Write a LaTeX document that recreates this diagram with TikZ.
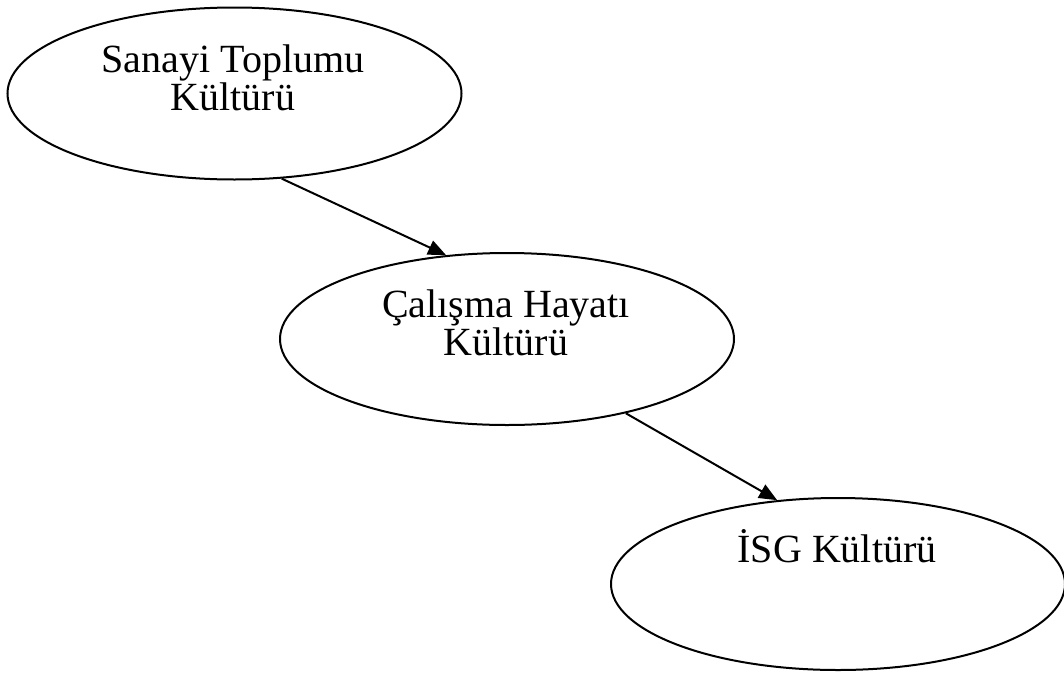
\documentclass[tikz,border=0pt]{standalone}
\usepackage{fontspec}
\setmainfont{Liberation Serif}
\usetikzlibrary{shapes.geometric,arrows.meta}
\tikzset{
  bubble/.style={draw=black, line width=2pt, ellipse, inner sep=0pt,
    minimum width=454pt, minimum height=172pt},
  lbl/.style={align=center, inner sep=0pt, font=\fontsize{40}{38}\selectfont},
  link/.style={line width=2pt, -{Triangle[length=18pt,width=15pt]}}
}
\begin{document}
\begin{tikzpicture}[x=1pt,y=-1pt]
\useasboundingbox (0,0) rectangle (1064,672);
\node[bubble] (e1) at (234.5,93.5) {};
\node[bubble] (e2) at (507,339) {};
\node[bubble] (e3) at (838,584) {};
\node[lbl, anchor=base] (t1) at (233,110) {Sanayi Toplumu\\Kültürü};
\node[lbl, anchor=base] (t2) at (506,355) {Çalışma Hayatı\\Kültürü};
\node[lbl, anchor=base] (t3) at (837,562) {İSG Kültürü};
\draw[link] (e1.-61.7) -- (e2.126);
\draw[link] (e2.-32.4) -- (e3.126);
\end{tikzpicture}
\end{document}
